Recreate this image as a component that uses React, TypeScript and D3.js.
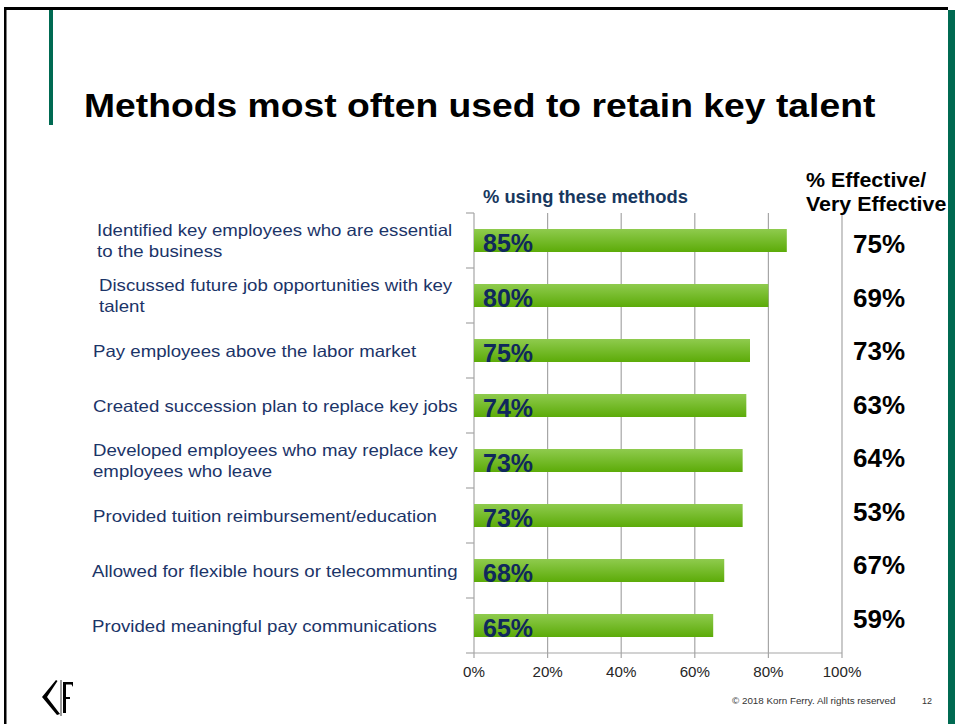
import React from "react";
import * as d3 from "d3";

const categories: string[][] = [
  ["Identified key employees who are essential", "to the business"],
  ["Discussed future job opportunities with key", "talent"],
  ["Pay employees above the labor market"],
  ["Created succession plan to replace key jobs"],
  ["Developed employees who may replace key", "employees who leave"],
  ["Provided tuition reimbursement/education"],
  ["Allowed for flexible hours or telecommunting"],
  ["Provided meaningful pay communications"],
];
const usingValues = [85, 80, 75, 74, 73, 73, 68, 65];
const effectiveValues = [75, 69, 73, 63, 64, 53, 67, 59];
const xTicks = [0, 20, 40, 60, 80, 100];

const title = "Methods most often used to retain key talent";
const seriesLabel = "% using these methods";
const effHeader = ["% Effective/", "Very Effective"];
const footer = "© 2018 Korn Ferry. All rights reserved";
const pageNum = "12";

const FONT = "Liberation Sans, Arial, Helvetica, sans-serif";
const NAVY = "#1b3468";
const KF_GREEN = "#006a52";

export default function App() {
  const W = 955;
  const H = 724;
  const plotLeft = 474;
  const plotRight = 842;
  const plotTop = 213;
  const plotBottom = 653;

  const x = d3.scaleLinear().domain([0, 100]).range([plotLeft, plotRight]);
  const idx = categories.map((_, i) => String(i));
  const y = d3.scaleBand().domain(idx).range([plotTop, plotBottom]).padding(0);
  const effY = d3.scalePoint().domain(idx).range([244, 619]);
  const barH = 23;
  const lineH = 22;
  const labelX = [97, 99, 93, 93, 93, 93, 92, 92];

  return (
    <svg
      width={W}
      height={H}
      viewBox={`0 0 ${W} ${H}`}
      style={{ position: "absolute", left: 0, top: 0, background: "#fff" }}
      fontFamily={FONT}
    >
      <defs>
        <linearGradient id="barGrad" x1="0" y1="0" x2="0" y2="1">
          <stop offset="0%" stopColor="#8fcb4e" />
          <stop offset="100%" stopColor="#5cab08" />
        </linearGradient>
      </defs>
      <rect x={0} y={0} width={W} height={H} fill="#fff" />
      {/* slide frame */}
      <rect x={4} y={7} width={944} height={3} fill="#000" />
      <rect x={4} y={7} width={2.5} height={H - 7} fill="#000" />
      <rect x={948} y={10} width={7} height={H - 10} fill={KF_GREEN} />
      <rect x={49} y={10} width={4} height={115} fill={KF_GREEN} />

      {/* title */}
      <text transform="translate(84,117) scale(1.13,1)" fontSize={33} fontWeight="bold" fill="#000">
        {title}
      </text>

      {/* grid lines */}
      {xTicks.map((t) => (
        <line
          key={"g" + t}
          x1={x(t)}
          x2={x(t)}
          y1={plotTop}
          y2={plotBottom + 5}
          stroke="#a6a6a6"
          strokeWidth={1.2}
        />
      ))}
      <line x1={plotLeft} x2={plotRight} y1={plotBottom} y2={plotBottom} stroke="#a6a6a6" strokeWidth={1.2} />
      {idx.map((d) => (
        <line
          key={"yt" + d}
          x1={plotLeft - 8}
          x2={plotLeft}
          y1={y(d) as number}
          y2={y(d) as number}
          stroke="#a6a6a6"
          strokeWidth={1.2}
        />
      ))}
      <line x1={plotLeft - 8} x2={plotLeft} y1={plotBottom} y2={plotBottom} stroke="#a6a6a6" strokeWidth={1.2} />

      {/* x tick labels */}
      {xTicks.map((t) => (
        <text
          key={"xl" + t}
          transform={`translate(${x(t)},677) scale(1.08,1)`}
          fontSize={14}
          textAnchor="middle"
          fill="#262626"
        >
          {t + "%"}
        </text>
      ))}

      {/* bars */}
      {usingValues.map((v, i) => {
        const cy = (y(String(i)) as number) + y.bandwidth() / 2;
        return (
          <g key={"b" + i}>
            <rect x={x(0)} y={cy - barH / 2} width={x(v) - x(0)} height={barH} fill="url(#barGrad)" />
            <text x={x(0) + 9} y={cy + barH / 2 - 0.5} fontSize={25} fontWeight="bold" fill="#10285c">
              {v + "%"}
            </text>
          </g>
        );
      })}

      {/* category labels */}
      {categories.map((lines, i) => {
        const cy = (y(String(i)) as number) + y.bandwidth() / 2;
        const startY = cy - ((lines.length - 1) * lineH) / 2 + 6;
        return (
          <text
            key={"c" + i}
            transform={`translate(${labelX[i]},${startY}) scale(1.13,1)`}
            fontSize={16.5}
            fill={NAVY}
          >
            {lines.map((l, j) => (
              <tspan key={j} x={0} y={j * lineH}>
                {l}
              </tspan>
            ))}
          </text>
        );
      })}

      {/* series header */}
      <text transform="translate(483,203) scale(1.02,1)" fontSize={18} fontWeight="bold" fill="#17375e">
        {seriesLabel}
      </text>

      {/* effective header */}
      {effHeader.map((l, j) => (
        <text
          key={"eh" + j}
          transform={`translate(806,${187 + j * 24}) scale(1.07,1)`}
          fontSize={20}
          fontWeight="bold"
          fill="#000"
        >
          {l}
        </text>
      ))}

      {/* effective values */}
      {effectiveValues.map((v, i) => (
        <text key={"e" + i} x={853} y={(effY(String(i)) as number) + 9} fontSize={26} fontWeight="bold" fill="#000">
          {v + "%"}
        </text>
      ))}

      {/* logo */}
      <g>
        <path d="M42 697 L56 680 L57.5 681 L47 697 L60 714 L57 715 Z" fill="#000" />
        <line x1={61} x2={61} y1={680} y2={716} stroke="#000" strokeWidth={0.8} />
        <path d="M63 682 L73 682 L73 687 L71.5 684.5 L66 684.5 L66 697 L70 697 L70 699 L66 699 L66 713 L63 713 Z" fill="#000" />
      </g>

      {/* footer */}
      <text transform="translate(732,704) scale(1.09,1)" fontSize={9} fill="#333">
        {footer}
      </text>
      <text x={922} y={704} fontSize={9} fill="#333">
        {pageNum}
      </text>
    </svg>
  );
}
